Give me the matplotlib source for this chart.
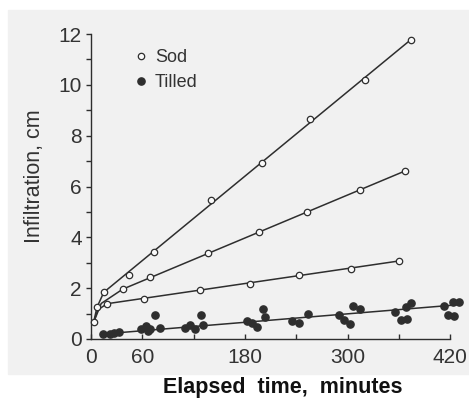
import matplotlib.pyplot as plt
from matplotlib.lines import Line2D
from matplotlib.patches import Rectangle

plt.rcParams['font.family'] = ['Liberation Sans', 'DejaVu Sans']

# sod, three plots (open circles)
sod1_t = [3, 7, 15, 44, 74, 140, 200, 256, 320, 374]
sod1_y = [0.65, 1.25, 1.84, 2.51, 3.44, 5.47, 6.93, 8.67, 10.2, 11.78]
sod2_t = [37, 69, 137, 196, 252, 314, 367]
sod2_y = [1.96, 2.43, 3.37, 4.21, 5.01, 5.87, 6.61]
sod3_t = [19, 62, 128, 186, 243, 304, 360]
sod3_y = [1.39, 1.59, 1.93, 2.15, 2.53, 2.77, 3.07]

# fitted curves
fit1_t = [3, 7, 15, 374]
fit1_y = [0.65, 1.25, 1.84, 11.78]
fit2_t = [3, 12, 37, 367]
fit2_y = [0.65, 1.4, 1.96, 6.61]
fit3_t = [3, 8, 19, 360]
fit3_y = [0.65, 1.15, 1.39, 3.07]
fit_till_t = [15, 430]
fit_till_y = [0.2, 1.35]

# tilled (filled dots)
till_t = [14, 22, 27, 33, 58, 64, 67, 69, 75, 81, 110, 116, 122, 129, 131,
          182, 188, 194, 201, 204, 235, 243, 254, 290, 296, 303, 306, 315,
          355, 362, 369, 368, 374, 413, 418, 423, 425, 430]
till_y = [0.18, 0.21, 0.24, 0.26, 0.39, 0.5, 0.31, 0.39, 0.96, 0.43, 0.45, 0.54, 0.39, 0.94, 0.55,
          0.69, 0.63, 0.48, 1.17, 0.85, 0.72, 0.62, 1.0, 0.95, 0.74, 0.59, 1.31, 1.19,
          1.08, 0.75, 0.77, 1.26, 1.4, 1.3, 0.94, 1.47, 0.9, 1.45]

xticks = [0, 60, 120, 180, 240, 300, 360, 420]
xticklabels = ['0', '60', '', '180', '', '300', '', '420']
yticks = [0, 2, 4, 6, 8, 10, 12]

ink = '#2e2e2e'
bg = '#f1f1f1'

fig = plt.figure(figsize=(4.69, 4.08), dpi=100)
fig.patches.append(Rectangle((8 / 469, 34 / 408), 1, 364 / 408, transform=fig.transFigure,
                             color=bg, zorder=-10))
ax = fig.add_axes([91 / 469, 69 / 408, 372 / 469, 310 / 408])
ax.set_facecolor('none')

for t, y in [(fit1_t, fit1_y), (fit2_t, fit2_y), (fit3_t, fit3_y), (fit_till_t, fit_till_y)]:
    ax.plot(t, y, color=ink, lw=1.1, clip_on=False)

for t, y in [(sod1_t, sod1_y), (sod2_t, sod2_y), (sod3_t, sod3_y)]:
    ax.plot(t, y, 'o', ms=4.6, mfc='#fafafa', mec=ink, mew=0.9, clip_on=False, zorder=3)
ax.plot(till_t, till_y, 'o', ms=5.2, color=ink, clip_on=False, zorder=3)

ax.set_xlim(0, 435)
ax.set_ylim(0, 12.2)
ax.spines['top'].set_visible(False)
ax.spines['right'].set_visible(False)
ax.spines['bottom'].set_bounds(0, 420)
ax.spines['left'].set_bounds(0, 12)
for s in ['left', 'bottom']:
    ax.spines[s].set_color(ink)
    ax.spines[s].set_linewidth(1.0)

ax.set_xticks(xticks)
ax.set_xticklabels(xticklabels)
ax.set_yticks(yticks)
ax.set_yticks(range(1, 12, 2), minor=True)
ax.tick_params(axis='x', direction='in', length=3.5, width=1, color=ink, pad=6.5, labelsize=15, labelcolor='#333')
ax.tick_params(axis='y', which='both', direction='out', length=3.5, width=1, color=ink, pad=3, labelsize=15, labelcolor='#333')

ax.set_ylabel('Infiltration, cm', fontsize=15.5, color='#333')
ax.yaxis.set_label_coords(-0.124, 0.526)
fig.text(283 / 469, (408 - 388) / 408, 'Elapsed  time,  minutes', fontsize=15.5, fontweight='bold',
         ha='center', va='center', color='#111')

handles = [Line2D([], [], ls='', marker='o', ms=4.6, mfc='#fafafa', mec=ink, mew=0.9),
           Line2D([], [], ls='', marker='o', ms=5.2, color=ink)]
ax.legend(handles, ['Sod', 'Tilled'], loc='upper left', bbox_to_anchor=(0.0995, 0.958),
          frameon=False, fontsize=13, handlelength=0.6, handletextpad=0.5, labelspacing=0.45,
          borderaxespad=0, labelcolor='#333')

fig.savefig('out.png', dpi=100)
